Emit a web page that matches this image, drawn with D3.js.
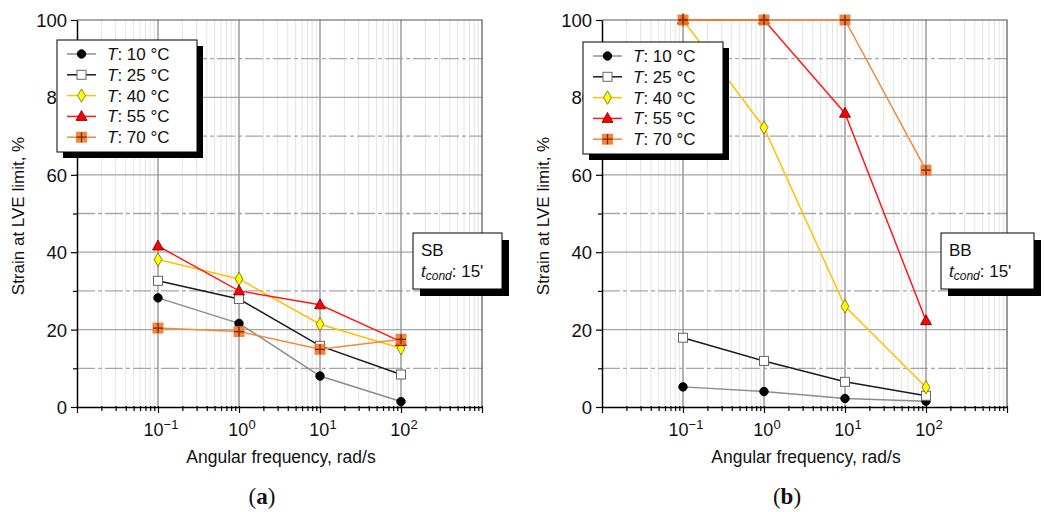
<!DOCTYPE html>
<html>
<head>
<meta charset="utf-8">
<script src="https://cdn.jsdelivr.net/npm/d3@7"></script>
<style>
  body { margin: 0; background: #fff; }
  svg { font-family: "Liberation Sans", Arial, sans-serif; }
</style>
</head>
<body>
<svg id="chart" width="1045" height="512"></svg>
<script>
var freqs = [0.1, 1, 10, 100];
var temps = ["10", "25", "40", "55", "70"];

// panel (a) SB
var sb10 = [28.2, 21.6, 8.0, 1.4];
var sb25 = [32.6, 27.9, 15.8, 8.4];
var sb40 = [38.1, 33.1, 21.4, 15.2];
var sb55 = [41.6, 30.0, 26.4, 16.9];
var sb70 = [20.4, 19.5, 14.9, 17.5];

// panel (b) BB
var bb10 = [5.2, 4.0, 2.2, 1.5];
var bb25 = [17.9, 11.9, 6.5, 2.9];
var bb40 = [100, 72.2, 26.0, 5.1];
var bb55 = [100, 100, 75.9, 22.3];
var bb70 = [100, 100, 100, 61.2];

var xTicks = [0.1, 1, 10, 100];
var xTickExp = ["\u22121", "0", "1", "2"];
var yTicks = [0, 20, 40, 60, 80, 100];

var styles = [
  { line: "#8c8c8c", fill: "#000", stroke: "#000", shape: "circle" },
  { line: "#1a1a1a", fill: "#fff", stroke: "#666", shape: "square" },
  { line: "#ffc000", fill: "#ffff00", stroke: "#6b6b00", shape: "diamond" },
  { line: "#ff1a1a", fill: "#ff0000", stroke: "#600", shape: "triangle" },
  { line: "#f5883a", fill: "#f07830", stroke: "#a04010", shape: "cross" }
];

var svg = d3.select("#chart");

function marker(g, shape, st, x, y) {
  if (shape == "circle") {
    g.append("circle").attr("cx", x).attr("cy", y).attr("r", 4.2)
      .attr("fill", st.fill).attr("stroke", st.stroke);
  } else if (shape == "square") {
    g.append("rect").attr("x", x - 4.5).attr("y", y - 4.5).attr("width", 9).attr("height", 9)
      .attr("fill", st.fill).attr("stroke", st.stroke).attr("stroke-width", 1);
  } else if (shape == "diamond") {
    g.append("path").attr("d", d3.symbol(d3.symbolDiamond, 52)())
      .attr("transform", "translate(" + x + "," + y + ")")
      .attr("fill", st.fill).attr("stroke", st.stroke).attr("stroke-width", 0.8);
  } else if (shape == "triangle") {
    g.append("path").attr("d", "M0,-6L5.5,4L-5.5,4Z")
      .attr("transform", "translate(" + x + "," + y + ")")
      .attr("fill", st.fill).attr("stroke", st.stroke).attr("stroke-width", 0.8);
  } else {
    g.append("rect").attr("x", x - 5.5).attr("y", y - 5.5).attr("width", 11).attr("height", 11)
      .attr("fill", st.fill).attr("opacity", 0.9);
    g.append("path").attr("d", "M" + (x - 5) + "," + y + "H" + (x + 5) + "M" + x + "," + (y - 5) + "V" + (y + 5))
      .attr("stroke", "#7a2a00").attr("stroke-width", 1.3);
  }
}

function shadowBox(g, x, y, w, h, dx, dy) {
  g.append("rect").attr("x", x + dx).attr("y", y + dy).attr("width", w).attr("height", h).attr("fill", "#000");
  g.append("rect").attr("x", x).attr("y", y).attr("width", w).attr("height", h)
    .attr("fill", "#fff").attr("stroke", "#000").attr("stroke-width", 1);
}

function drawPanel(left, series, opts) {
  var x = d3.scaleLog().domain([0.01, 1000]).range([left, left + 405]);
  var y = d3.scaleLinear().domain([0, 100]).range([407, 20]);
  var g = svg.append("g");

  // minor vertical grid
  var minors = [];
  for (var e = -2; e < 3; e++) {
    for (var k = 2; k < 10; k++) minors.push(k * Math.pow(10, e));
  }
  g.selectAll(".vmin").data(minors).enter().append("line")
    .attr("x1", d => x(d)).attr("x2", d => x(d)).attr("y1", y(0)).attr("y2", y(100))
    .attr("stroke", "#e4e4e4").attr("stroke-width", 1);

  // horizontal grid
  g.selectAll(".hgrid").data(d3.range(10, 100, 10)).enter().append("line")
    .attr("x1", x(0.01)).attr("x2", x(1000)).attr("y1", d => y(d)).attr("y2", d => y(d))
    .attr("stroke", "#a6a6a6").attr("stroke-width", 1.3)
    .attr("stroke-dasharray", d => d % 20 == 0 ? null : "18,3,4,3");

  // major vertical grid
  g.selectAll(".vmaj").data([0.1, 1, 10, 100]).enter().append("line")
    .attr("x1", d => x(d)).attr("x2", d => x(d)).attr("y1", y(0)).attr("y2", y(100))
    .attr("stroke", "#9a9a9a").attr("stroke-width", 1.5);

  // frame
  g.append("path")
    .attr("d", "M" + x(0.01) + "," + y(100) + "H" + x(1000) + "V" + y(0))
    .attr("fill", "none").attr("stroke", "#555").attr("stroke-width", 1.2);

  // x axis
  var xAxis = d3.axisBottom(x).tickValues(minors.concat([0.01, 0.1, 1, 10, 100, 1000]))
    .tickFormat("").tickSize(4).tickSizeOuter(0);
  var xa = g.append("g").attr("transform", "translate(0," + y(0) + ")").call(xAxis);
  xa.select(".domain").attr("stroke-width", 1.5).attr("stroke", "#000");
  xa.selectAll(".tick line").attr("stroke-width", 1.2).attr("y1", -1);
  xa.selectAll(".tick").filter(d => [0.01, 0.1, 1, 10, 100, 1000].indexOf(d) >= 0)
    .select("line").attr("y2", 6);

  var xl = g.selectAll(".xlab").data(xTicks).enter().append("text")
    .attr("x", d => x(d) + 3).attr("y", 436).attr("text-anchor", "middle")
    .attr("font-size", 18).attr("fill", "#111");
  xl.append("tspan").text("10");
  xl.append("tspan").attr("dy", -7).attr("font-size", 13).text((d, i) => xTickExp[i]);

  // y axis
  var yAxis = d3.axisLeft(y).tickValues(d3.range(0, 101, 10)).tickSize(6).tickSizeOuter(0)
    .tickFormat(d => yTicks.indexOf(d) >= 0 ? d : "");
  var ya = g.append("g").attr("transform", "translate(" + x(0.01) + ",0)").call(yAxis);
  ya.select(".domain").attr("stroke-width", 1.5).attr("stroke", "#000");
  ya.selectAll(".tick line").attr("stroke-width", 1.2);
  ya.selectAll(".tick").filter(d => d % 20 != 0).select("line").attr("x2", -4);
  ya.selectAll(".tick text").attr("font-size", 18.5).attr("fill", "#111")
    .attr("font-family", "Liberation Sans, Arial, sans-serif").attr("x", -10).attr("dy", "0.35em");

  // axis labels
  g.append("text").attr("transform", "translate(" + (left - 53) + "," + 216 + ") rotate(-90)")
    .attr("text-anchor", "middle").attr("font-size", 17).attr("fill", "#111")
    .text("Strain at LVE limit, %");
  g.append("text").attr("x", x(3.3)).attr("y", 463).attr("text-anchor", "middle")
    .attr("font-size", 17.5).attr("fill", "#111").text("Angular frequency, rad/s");
  var pl = g.append("text").attr("x", opts.labelX).attr("y", 504).attr("text-anchor", "middle")
    .attr("font-family", "Liberation Serif, DejaVu Serif, serif").attr("font-size", 23).attr("fill", "#111");
  pl.append("tspan").text("(");
  pl.append("tspan").attr("font-weight", "bold").text(opts.panel);
  pl.append("tspan").text(")");

  // series
  var line = d3.line().x((d, i) => x(freqs[i])).y(d => y(d));
  series.forEach(function (s, j) {
    g.append("path").attr("d", line(s)).attr("fill", "none")
      .attr("stroke", styles[j].line).attr("stroke-width", 1.5);
  });
  series.forEach(function (s, j) {
    s.forEach(function (v, i) { marker(g, styles[j].shape, styles[j], x(freqs[i]), y(v)); });
  });

  // legend
  var lg = svg.append("g");
  shadowBox(lg, opts.legX, opts.legY, 140, 112, 6, 6);
  temps.forEach(function (t, j) {
    var ly = opts.legY + 14 + j * 20.8;
    lg.append("line").attr("x1", opts.legX + 10).attr("x2", opts.legX + 39).attr("y1", ly).attr("y2", ly)
      .attr("stroke", styles[j].line).attr("stroke-width", 1.5);
    marker(lg, styles[j].shape, styles[j], opts.legX + 24.5, ly);
    var tx = lg.append("text").attr("x", opts.legX + 50).attr("y", ly + 6)
      .attr("font-size", 17).attr("fill", "#111");
    tx.append("tspan").attr("font-style", "italic").text("T");
    tx.append("tspan").text(": " + t + " \u00b0C");
  });

  // annotation
  var an = svg.append("g");
  shadowBox(an, opts.boxX, 233, opts.boxW, 56, 7, 7);
  an.append("text").attr("x", opts.boxX + 8).attr("y", 256).attr("font-size", 17).attr("fill", "#111").text(opts.name);
  var t2 = an.append("text").attr("x", opts.boxX + 8).attr("y", 277).attr("font-size", 17).attr("fill", "#111");
  t2.append("tspan").attr("font-style", "italic").text("t");
  t2.append("tspan").attr("font-style", "italic").attr("font-size", 12).attr("dy", 3).text("cond");
  t2.append("tspan").attr("dy", -3).text(": 15'");
}

drawPanel(77, [sb10, sb25, sb40, sb55, sb70],
  { panel: "a", name: "SB", labelX: 262, legX: 57, legY: 40, boxX: 413, boxW: 89 });
drawPanel(602, [bb10, bb25, bb40, bb55, bb70],
  { panel: "b", name: "BB", labelX: 787, legX: 583, legY: 42, boxX: 941, boxW: 93 });
</script>
</body>
</html>
